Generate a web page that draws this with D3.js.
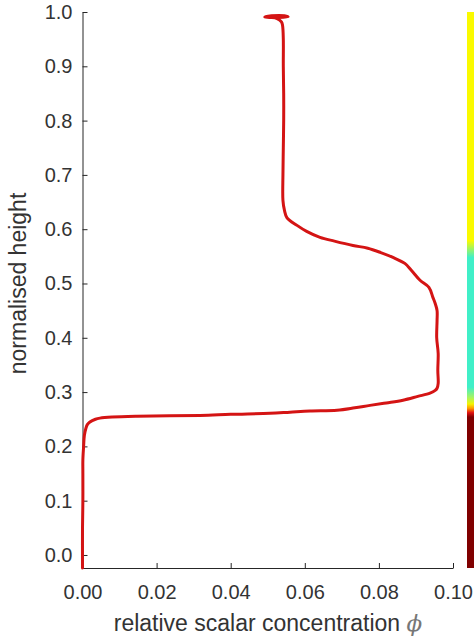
<!DOCTYPE html>
<html>
<head>
<meta charset="utf-8">
<script src="https://cdn.jsdelivr.net/npm/d3@7"></script>
<style>
  html, body { margin: 0; padding: 0; background: #fff; }
  svg { display: block; }
  .axis text { font-family: "Liberation Sans", Arial, sans-serif; font-size: 20px; fill: #333; }
  .axis path, .axis line { stroke: #262626; stroke-width: 1; }
  .label { font-family: "Liberation Sans", Arial, sans-serif; font-size: 23px; fill: #333; }
</style>
</head>
<body>
<script>
/* global d3 */

// profile: normalised height vs concentration
var heights = [-0.024, 0.05, 0.10, 0.15, 0.175, 0.20, 0.22, 0.233, 0.240, 0.245,
               0.250, 0.252, 0.254, 0.2555, 0.257, 0.259, 0.261, 0.263, 0.265, 0.2665,
               0.271, 0.2755, 0.280, 0.285, 0.292, 0.298, 0.303, 0.307, 0.316, 0.340, 0.371,
               0.400, 0.432, 0.450, 0.463, 0.474, 0.493, 0.506, 0.524, 0.537, 0.548,
               0.557, 0.565, 0.570, 0.578, 0.585, 0.596, 0.607, 0.621, 0.635, 0.653,
               0.70, 0.75, 0.80, 0.85, 0.90, 0.95, 0.975, 0.982, 0.988, 0.990,
               0.991, 0.993, 0.993, 0.991, 0.990];
var phi     = [0.0000, 0.0000, 0.0001, 0.0001, 0.0001, 0.0003, 0.0005, 0.0009, 0.0013, 0.0020,
               0.0035, 0.0047, 0.0080, 0.0147, 0.0317, 0.0400, 0.0506, 0.0560, 0.0614, 0.0687,
               0.0735, 0.0776, 0.0820, 0.0865, 0.0905, 0.0938, 0.0952, 0.0957, 0.0960, 0.0959, 0.0960,
               0.0956, 0.0957, 0.0957, 0.0952, 0.0946, 0.0935, 0.0911, 0.0888, 0.0870, 0.0838,
               0.0805, 0.0770, 0.0730, 0.0680, 0.0641, 0.0605, 0.0579, 0.0552, 0.0545, 0.0541,
               0.0541, 0.0542, 0.0543, 0.0543, 0.0542, 0.0542, 0.0540, 0.0537, 0.0525, 0.0505,
               0.0492, 0.0510, 0.0545, 0.0555, 0.0530];

var xTicks = [0, 0.02, 0.04, 0.06, 0.08, 0.10];
var yTicks = [0, 0.1, 0.2, 0.3, 0.4, 0.5, 0.6, 0.7, 0.8, 0.9, 1.0];

// colour strip on the right edge, keyed by height
var barHeights = [-0.024, 0.254, 0.262, 0.270, 0.278, 0.290, 0.309, 0.548, 0.579, 1.0];
var barColors  = ["#800000", "#800000", "#e01010", "#ff9a00", "#f4f400", "#a8f460",
                  "#40efc8", "#40efc8", "#fafa00", "#fafa00"];

var width  = 474;
var height = 637;

var svg = d3.select("body").append("svg")
            .attr("width", width)
            .attr("height", height);

var x = d3.scaleLinear().domain([0, 0.1]).range([82.5, 453]);
var y = d3.scaleLinear().domain([-0.024, 1.0]).range([568, 12]);

// colour strip
var grad = svg.append("defs").append("linearGradient")
              .attr("id", "strip")
              .attr("gradientUnits", "userSpaceOnUse")
              .attr("x1", 0).attr("x2", 0)
              .attr("y1", y(-0.024)).attr("y2", y(1.0));

grad.selectAll("stop")
    .data(barHeights)
    .enter().append("stop")
    .attr("offset", (d) => (d - (-0.024)) / (1.0 - (-0.024)))
    .attr("stop-color", (d, i) => barColors[i]);

svg.append("rect")
   .attr("x", 467)
   .attr("y", y(1.0))
   .attr("width", 12)
   .attr("height", y(-0.024) - y(1.0))
   .attr("fill", "url(#strip)");

// axes
var xAxis = svg.append("g")
               .attr("class", "axis")
               .attr("transform", "translate(0," + y(-0.024) + ")")
               .call(d3.axisBottom(x)
                       .tickValues(xTicks)
                       .tickFormat(d3.format(".2f"))
                       .tickSizeInner(-5)
                       .tickSizeOuter(0)
                       .tickPadding(13));
xAxis.selectAll("text").attr("dy", "0.9em");

svg.append("g")
   .attr("class", "axis")
   .attr("transform", "translate(" + x(0) + ",0)")
   .call(d3.axisLeft(y)
           .tickValues(yTicks)
           .tickFormat(d3.format(".1f"))
           .tickSizeInner(-5)
           .tickSizeOuter(0)
           .tickPadding(10));

// profile
var pts = heights.map((h, i) => [phi[i], h]);

svg.append("path")
   .datum(pts)
   .attr("fill", "none")
   .attr("stroke", "#d41414")
   .attr("stroke-width", 3)
   .attr("stroke-linejoin", "round")
   .attr("stroke-linecap", "round")
   .attr("d", d3.line()
                .x((d) => x(d[0]))
                .y((d) => y(d[1]))
                .curve(d3.curveCatmullRom.alpha(0.5)));

// labels
var xl = svg.append("text")
            .attr("class", "label")
            .attr("x", 268)
            .attr("y", 631)
            .attr("text-anchor", "middle");
xl.append("tspan").text("relative scalar concentration ");
xl.append("tspan")
  .attr("font-family", "'DejaVu Serif', 'Liberation Serif', serif")
  .attr("font-style", "italic")
  .attr("fill", "#777")
  .text("\u03d5");

svg.append("text")
   .attr("class", "label")
   .attr("transform", "translate(26," + y(0.5) + ") rotate(-90)")
   .attr("text-anchor", "middle")
   .text("normalised height");
</script>
</body>
</html>
